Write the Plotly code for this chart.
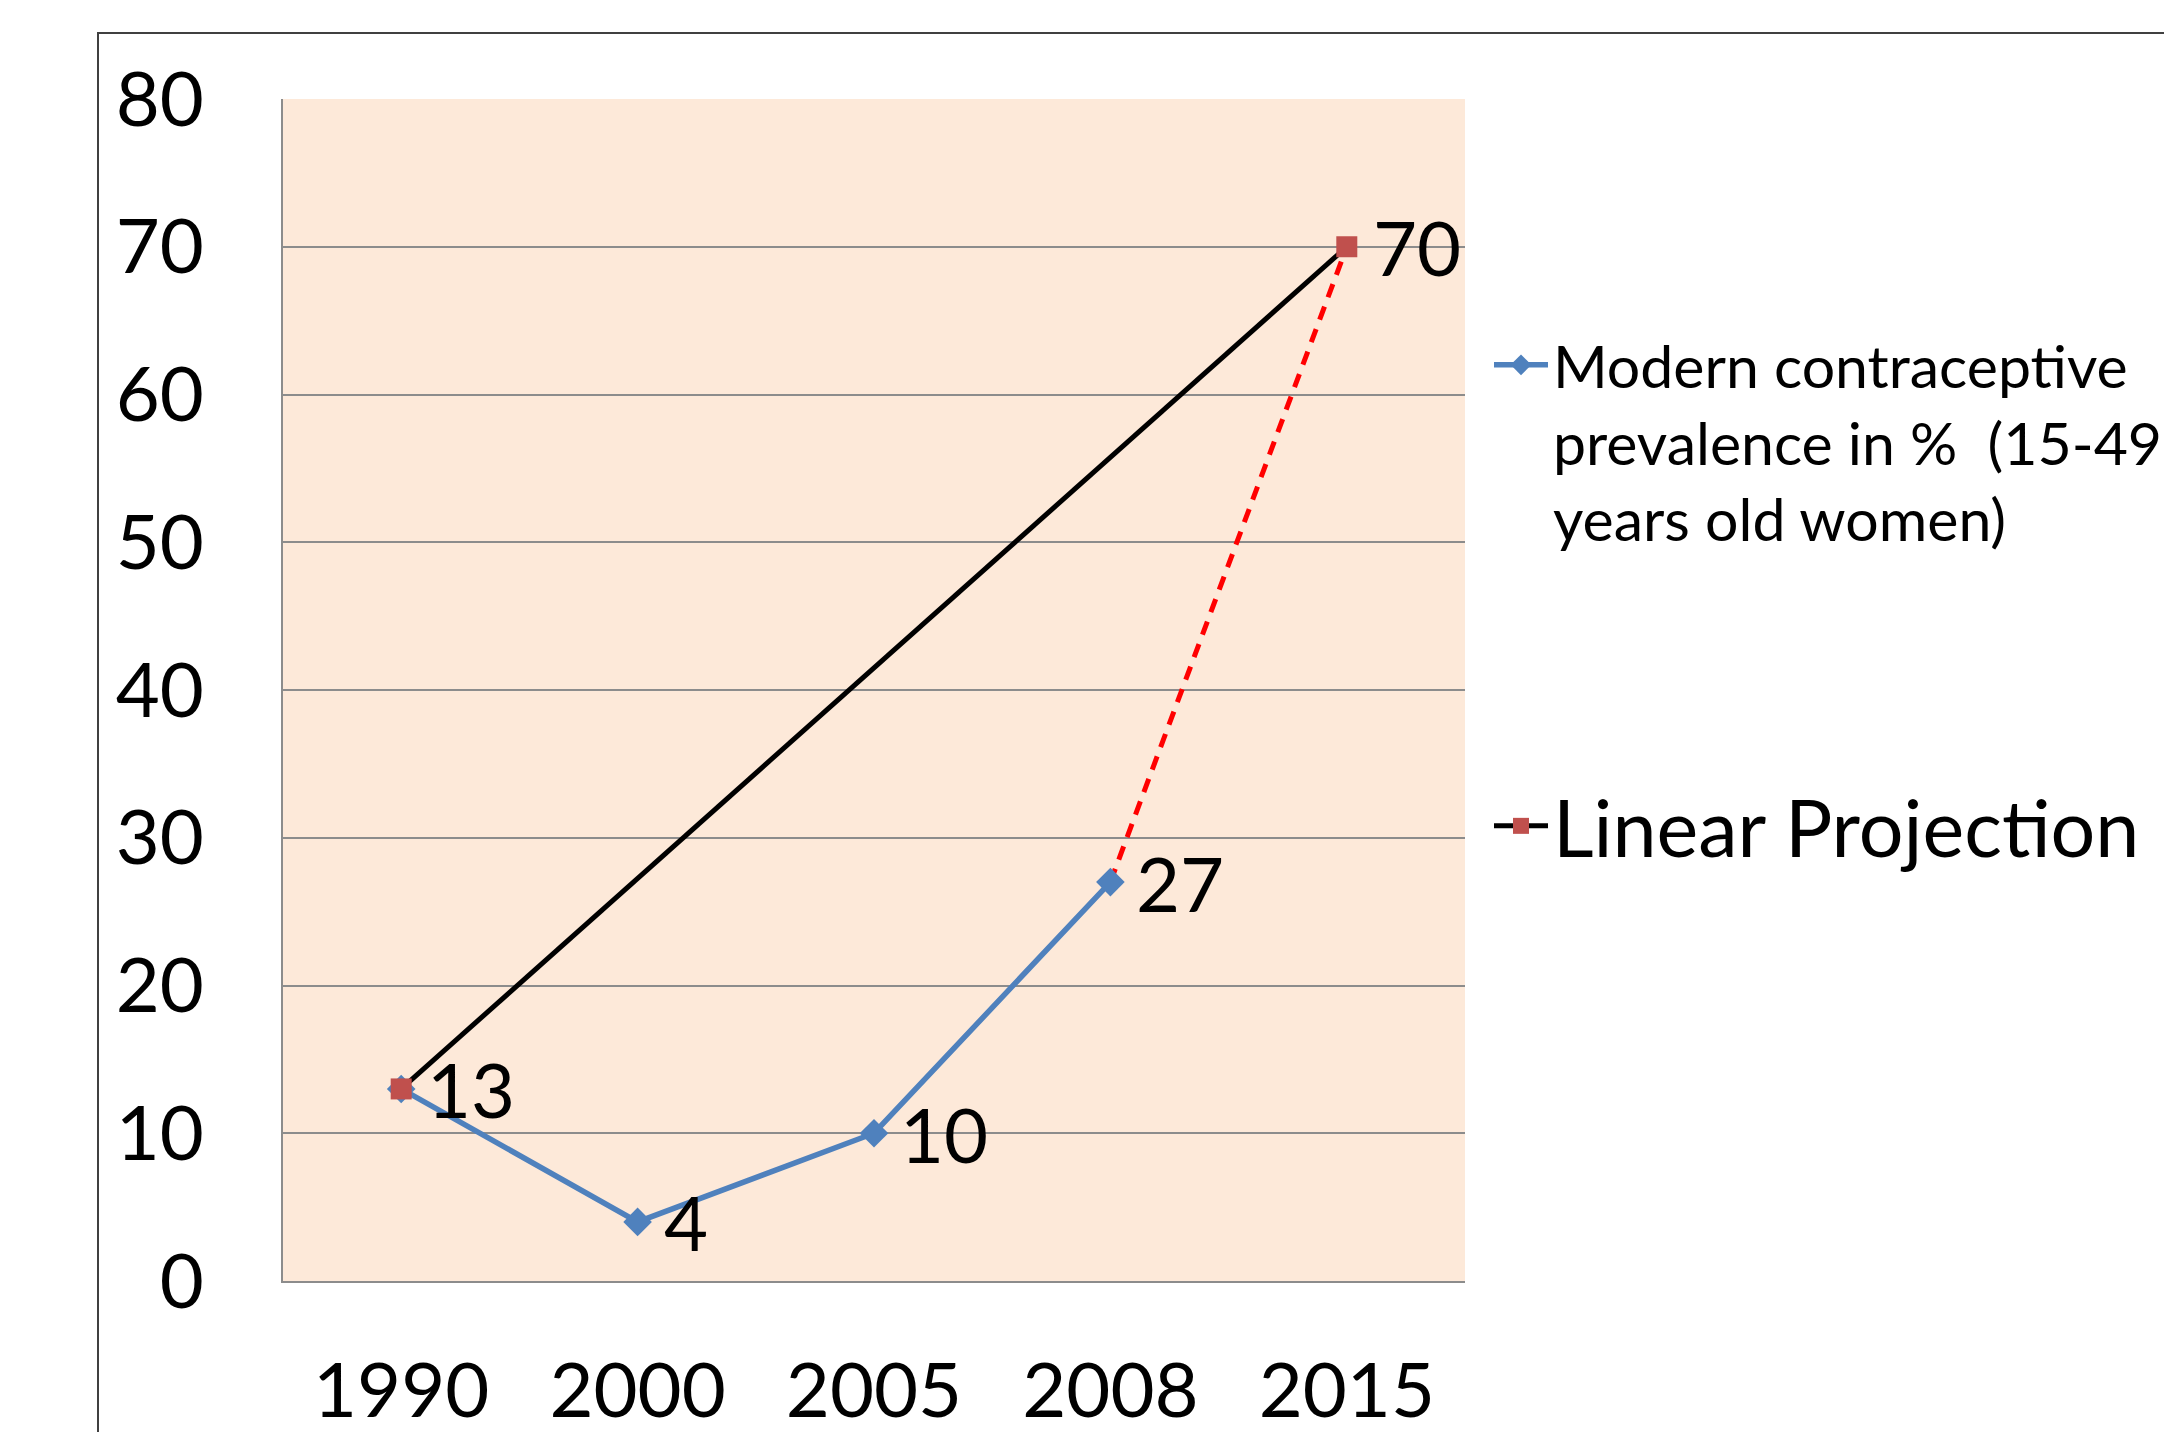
import plotly.graph_objects as go

years = ["1990", "2000", "2005", "2008", "2015"]
prevalence = [13, 4, 10, 27, None]
projection = [13, None, None, None, 70]
gap_link = [None, None, None, 27, 70]

prevalence_labels = ["", "4", "10", "27", ""]
projection_labels = ["13", "", "", "", "70"]

FONT = "Lato"
OFF = 8  # default page body margin
W, H = 2172 - OFF, 1432 - OFF
# plot area in page pixels
PL, PR, PT, PB = 283, 1465, 99, 1281
L, R, T, B = PL - OFF, PR - OFF, PT - OFF, PB - OFF


def px(xp):
    return (xp - PL) / (PR - PL)


def py(yp):
    return (PB - yp) / (PB - PT)


fig = go.Figure()

fig.add_trace(go.Scatter(
    x=years, y=gap_link, mode="lines", showlegend=False,
    line=dict(color="#FF0000", width=5, dash="14px,10px"),
    connectgaps=False, hoverinfo="skip",
))

fig.add_trace(go.Scatter(
    x=years, y=prevalence, mode="lines+markers",
    name="<span style='font-size:59px'>Modern contraceptive<br>prevalence in %  (15-49<br>years old women)</span>",
    line=dict(color="#4F81BD", width=5.5),
    marker=dict(symbol="diamond", size=22, color="#4F81BD"),
    legend="legend",
))

fig.add_trace(go.Scatter(
    x=years, y=projection, mode="lines+markers",
    name="Linear Projection",
    line=dict(color="black", width=5),
    marker=dict(symbol="square", size=21, color="#C0504D"),
    connectgaps=True,
    legend="legend2",
))

# data labels, to the right of each point (category index on the x axis)
for series, labels in ((prevalence, prevalence_labels), (projection, projection_labels)):
    for i, (yv, lab) in enumerate(zip(series, labels)):
        if yv is None or not lab:
            continue
        fig.add_annotation(
            x=i, y=yv, xref="x", yref="y", text=lab, showarrow=False,
            xanchor="left", yanchor="middle", xshift=24, yshift=0,
            font=dict(family=FONT, size=76, color="black"),
        )

fig.add_shape(type="rect", xref="paper", yref="paper",
              x0=px(98), x1=1.8,
              y0=-0.5, y1=py(33),
              line=dict(color="#404040", width=2), fillcolor="rgba(0,0,0,0)",
              layer="below")

fig.update_layout(
    width=W, height=H,
    margin=dict(l=L, r=W - R, t=T, b=H - B, pad=0, autoexpand=False),
    paper_bgcolor="white", plot_bgcolor="#FDE9D9",
    font=dict(family=FONT, color="black"),
    legend=dict(
        x=px(1489), xanchor="left",
        y=py(320), yanchor="top",
        font=dict(family=FONT, size=59, color="black"),
        bgcolor="rgba(0,0,0,0)", itemwidth=54, valign="top",
        tracegroupgap=0,
    ),
    legend2=dict(
        x=px(1489), xanchor="left",
        y=py(826), yanchor="middle",
        font=dict(family=FONT, size=79, color="black"),
        bgcolor="rgba(0,0,0,0)", itemwidth=54,
    ),
    xaxis=dict(
        type="category", range=[-0.5, 4.5], automargin=False,
        showgrid=False, showline=True, linecolor="#8C8C8C", linewidth=2,
        ticks="", tickfont=dict(family=FONT, size=76, color="black"),
        ticklabelstandoff=43, zeroline=False,
    ),
    yaxis=dict(
        range=[0, 80], dtick=10, tick0=0, automargin=False,
        showgrid=True, gridcolor="#8C8C8C", gridwidth=2,
        showline=True, linecolor="#8C8C8C", linewidth=2,
        ticks="", tickfont=dict(family=FONT, size=76, color="black"),
        ticklabelstandoff=62, zeroline=False,
    ),
)

fig.write_html("out.html")
